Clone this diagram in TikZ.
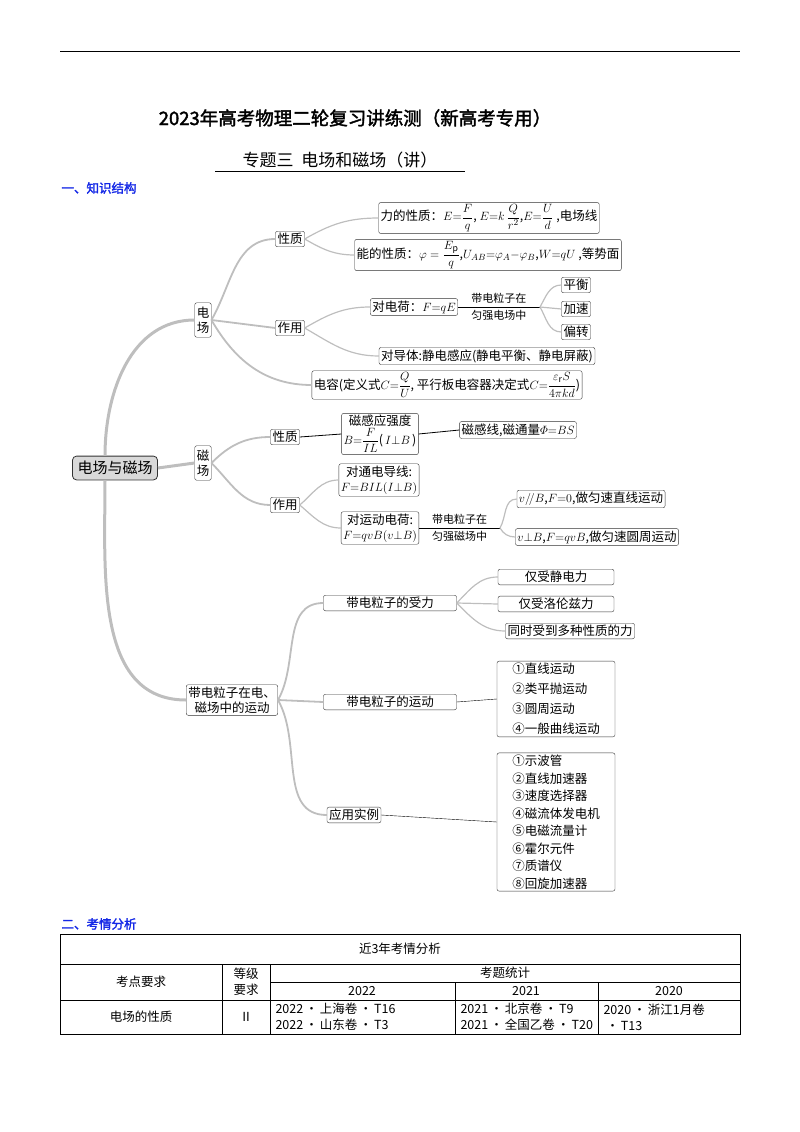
\documentclass[tikz,border=0pt]{standalone}
\usepackage{amsmath, amssymb}
\usepackage{fontspec}
\setmainfont{Noto Sans CJK SC}[AutoFakeBold=2]
\usepackage{tikz}
\usepackage{xcolor}
\usetikzlibrary{positioning}
\definecolor{headblue}{RGB}{20,40,230}
\definecolor{branchgray}{RGB}{190,190,190}
\tikzset{
  box/.style={draw=black!80, rounded corners=2pt, inner sep=2pt, fill=white,
    font=\fontsize{12.5}{15}\selectfont, align=left},
  vbox/.style={box, align=center, inner xsep=2pt, inner ysep=4pt},
  root/.style={box, fill=black!15, line width=0.8pt, rounded corners=4pt,
    font=\fontsize{15}{17}\selectfont, inner sep=5pt},
  listbox/.style={box, font=\fontsize{12.5}{20}\selectfont, minimum width=118pt},
  trunk/.style={draw=branchgray, line width=3pt},
  branch/.style={draw=branchgray, line width=1.8pt},
  twig/.style={draw=branchgray, line width=1.2pt},
  small/.style={font=\fontsize{11}{12}\selectfont},
  cell/.style={font=\fontsize{12.5}{16}\selectfont, align=left},
}
\begin{document}
\begin{tikzpicture}[x=1pt, y=-1pt]
        \useasboundingbox (0,0) rectangle (800,1132);
        \draw[line width=1pt] (60,52) -- (740,52);
        \node[font=\bfseries\fontsize{18.5}{20}\selectfont] (title) at (355,118) {2023年高考物理二轮复习讲练测（新高考专用）};
        \node[font=\fontsize{17}{19}\selectfont] (sub) at (340,160) {专题三\ \ 电场和磁场（讲）};
        \draw (215,171) -- (465,171);
        \node[font=\bfseries\fontsize{12.5}{14}\selectfont, text=headblue, anchor=west] (h1) at (58,188) {一、知识结构};
        
        % trunk
        \node[root] (em) at (115,468) {电场与磁场};
        \node[vbox] (ef) at (203,320) {电\\场};
        \node[vbox] (mf) at (203,463) {磁\\场};
        \node[box, align=center] (mo) at (232,700) {带电粒子在电、\\磁场中的运动};
        \path[trunk] (em.north) ++(-10,0) to[out=90, in=180] (ef.west);
        \path[trunk] (em.east) -- (mf.west);
        \path[trunk] (em.south) ++(-10,0) to[out=-90, in=180] (mo.west);
        
        % electric field
        \node[box] (exz) at (290,239) {性质};
        \node[box] (ezy) at (290,328) {作用};
        \node[box] (ecap) at (447,385) {电容(定义式$C{=}\dfrac{Q}{U}$, 平行板电容器决定式$C{=}\dfrac{\varepsilon_{\mathrm r} S}{4\pi kd}$)};
        \node[box] (eli) at (489,218) {力的性质：$E{=}\dfrac{F}{q}$, $E{=}k\,\dfrac{Q}{r^2}$,$E{=}\dfrac{U}{d}$ ,电场线};
        \node[box] (ene) at (488,255) {能的性质：$\varphi=\dfrac{E_{\mathrm p}}{q}$,$U_{AB}{=}\varphi_A{-}\varphi_B$,$W{=}qU$ ,等势面};
        \node[box] (edq) at (414,307) {对电荷：$F{=}qE$};
        \node[box] (edt) at (487,356) {对导体:静电感应(静电平衡、静电屏蔽)};
        \node[box] (pph) at (576,285) {平衡};
        \node[box] (pjs) at (576,309) {加速};
        \node[box] (ppz) at (576,332) {偏转};
        \coordinate (eqs) at (540,307);
        \path[branch] (ef.east) to[out=60, in=180] (exz.west);
        \path[branch] (ef.east) -- (ezy.west);
        \path[branch] (ef.east) to[out=-60, in=180] (ecap.west);
        \path[twig] (exz.east) to[out=30, in=180] (eli.west);
        \path[twig] (exz.east) to[out=-30, in=180] (ene.west);
        \path[twig] (ezy.east) to[out=30, in=180] (edq.west);
        \path[twig] (ezy.east) to[out=-30, in=180] (edt.west);
        \draw (edq.east) -- node[above, small] {带电粒子在}
          node[below, small] {匀强电场中} (eqs);
        \path[twig] (eqs) to[out=60, in=180] (pph.west);
        \path[twig] (eqs) -- (pjs.west);
        \path[twig] (eqs) to[out=-60, in=180] (ppz.west);
        
        % magnetic field
        \node[box] (mxz) at (285,437) {性质};
        \node[box] (mzy) at (285,505) {作用};
        \node[box, align=center] (mbd) at (380,434) {磁感应强度\\$B{=}\dfrac{F}{IL}$(\,$I{\perp}B$\,)};
        \node[box] (mbl) at (518,430) {磁感线,磁通量$\varPhi{=}BS$};
        \node[box, align=center] (mdx) at (379,480) {对通电导线:\\$F{=}BIL(I{\perp}B)$};
        \node[box, align=center] (mdq) at (380,528) {对运动电荷:\\$F{=}qvB(v{\perp}B)$};
        \node[box] (mpl) at (591,499) {$v/\!/B$,$F{=}0$,做匀速直线运动};
        \node[box] (mcz) at (597,537) {$v{\perp}B$,$F{=}qvB$,做匀速圆周运动};
        \coordinate (mqs) at (500,528);
        \path[branch] (mf.east) to[out=45, in=180] (mxz.west);
        \path[branch] (mf.east) to[out=-45, in=180] (mzy.west);
        \draw[line width=0.8pt] (mxz.east) -- (mbd.west);
        \draw[line width=0.8pt] (mbd.east) -- (mbl.west);
        \path[twig] (mzy.east) to[out=40, in=180] (mdx.west);
        \path[twig] (mzy.east) to[out=-40, in=180] (mdq.west);
        \draw (mdq.east) -- node[above, small] {带电粒子在}
          node[below, small] {匀强磁场中} (mqs);
        \path[twig] (mqs) to[out=60, in=180] (mpl.west);
        \path[twig] (mqs) to[out=-60, in=180] (mcz.west);
        
        % charged particle motion
        \node[box, minimum width=133pt, align=center] (msl) at (390,603) {带电粒子的受力};
        \node[box, minimum width=133pt, align=center] (myd) at (390,702) {带电粒子的运动};
        \node[box] (myl) at (354,815) {应用实例};
        \node[box, minimum width=116pt] (sj) at (556,577) {仅受静电力\hfill};
        \node[box, minimum width=116pt] (sl) at (556,604) {仅受洛伦兹力\hfill};
        \node[box] (sd) at (570,631) {同时受到多种性质的力};
        \node[listbox] (ydl) at (556,699) {①直线运动\\②类平抛运动\\③圆周运动\\④一般曲线运动};
        \node[listbox, font=\fontsize{12.5}{17.5}\selectfont] (yll) at (556,822) {①示波管\\②直线加速器\\③速度选择器\\④磁流体发电机\\⑤电磁流量计\\⑥霍尔元件\\⑦质谱仪\\⑧回旋加速器};
        \path[branch] (mo.east) to[out=60, in=180] (msl.west);
        \path[branch] (mo.east) -- (myd.west);
        \path[branch] (mo.east) to[out=-60, in=180] (myl.west);
        \path[twig] (msl.east) to[out=45, in=180] (sj.west);
        \path[twig] (msl.east) -- (sl.west);
        \path[twig] (msl.east) to[out=-45, in=180] (sd.west);
        \draw (myd.east) -- (ydl.west);
        \draw (myl.east) -- (yll.west);
        
        % table
        \node[font=\bfseries\fontsize{12.5}{14}\selectfont, text=headblue, anchor=west] (h2) at (58,924) {二、考情分析};
        \draw[line width=0.8pt] (60,934) rectangle (740,1034);
        \draw (60,964) -- (740,964);
        \draw (60,1000) -- (740,1000);
        \draw (270,982) -- (740,982);
        \draw (222,964) -- (222,1034);
        \draw (270,964) -- (270,1034);
        \draw (455,982) -- (455,1034);
        \draw (598,982) -- (598,1034);
        \node[cell] (tt) at (400,949) {近3年考情分析};
        \node[cell] (tkd) at (141,982) {考点要求};
        \node[cell, align=center] (tdj) at (246,982) {等级\\要求};
        \node[cell] (ttj) at (505,973) {考题统计};
        \node[cell] (y22) at (362,991) {2022};
        \node[cell] (y21) at (526,991) {2021};
        \node[cell] (y20) at (669,991) {2020};
        \node[cell] (dxz) at (141,1017) {电场的性质};
        \node[cell] (ddj) at (246,1017) {Ⅱ};
        \node[cell, anchor=west] (d22) at (272,1017) {2022\,•\,上海卷\,•\,T16\\2022\,•\,山东卷\,•\,T3};
        \node[cell, anchor=west] (d21) at (457,1017) {2021\,•\,北京卷\,•\,T9\\2021\,•\,全国乙卷\,•\,T20};
        \node[cell, anchor=west] (d20) at (600,1017) {2020\,•\,浙江1月卷\\\ •\,T13};
    \end{tikzpicture}
\end{document}
